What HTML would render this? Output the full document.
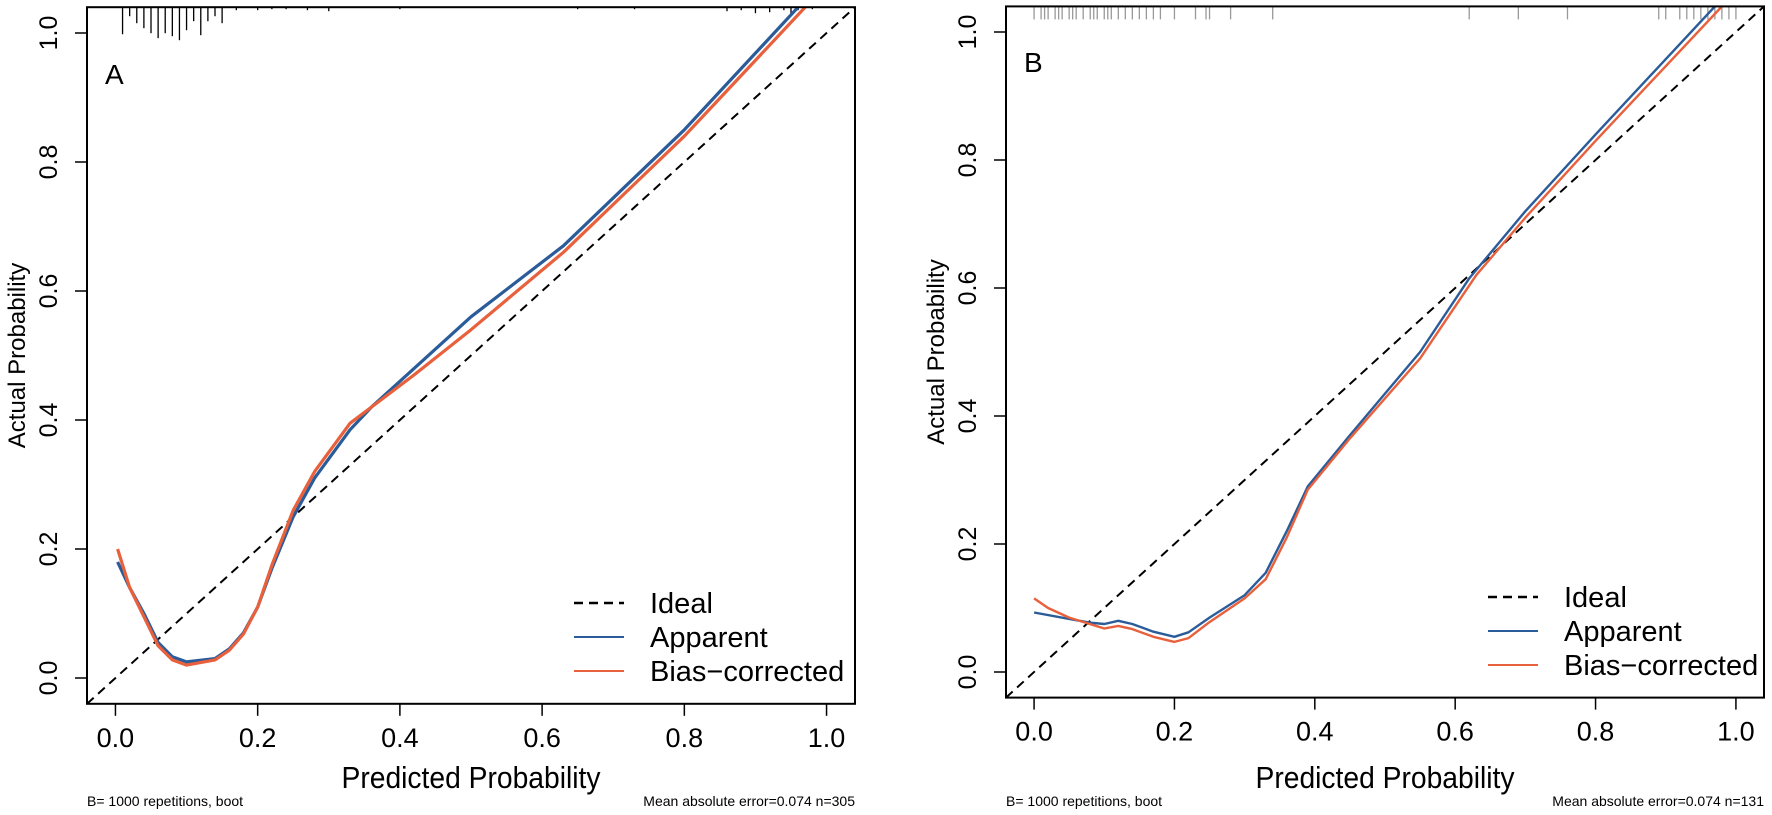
<!DOCTYPE html>
<html><head><meta charset="utf-8"><style>
html,body{margin:0;padding:0;background:#fff;}
svg{display:block;}
.n{font-family:"Liberation Sans Narrow","Liberation Sans",sans-serif;}
.r{font-family:"Liberation Sans",sans-serif;}
</style></head><body>
<svg id="c" width="1772" height="815" viewBox="0 0 1772 815" xmlns="http://www.w3.org/2000/svg"></svg>
<script>
const xTicks = [0, 0.2, 0.4, 0.6, 0.8, 1.0];
const yTicks = [0, 0.2, 0.4, 0.6, 0.8, 1.0];
const tickLabels = ["0.0","0.2","0.4","0.6","0.8","1.0"];
const legendLabels = ["Ideal","Apparent","Bias\u2212corrected"];

const aApparentX = [0.003,0.02,0.04,0.06,0.08,0.1,0.14,0.16,0.18,0.2,0.22,0.25,0.28,0.33,0.36,0.4,0.5,0.63,0.8,0.96];
const aApparentY = [0.18,0.14,0.1,0.055,0.033,0.025,0.03,0.045,0.07,0.11,0.17,0.25,0.31,0.385,0.42,0.46,0.56,0.67,0.85,1.04];
const aCorrectedX = [0.003,0.02,0.04,0.06,0.08,0.1,0.14,0.16,0.18,0.2,0.22,0.25,0.28,0.33,0.36,0.42,0.5,0.63,0.8,0.97];
const aCorrectedY = [0.2,0.14,0.095,0.05,0.028,0.02,0.028,0.043,0.068,0.11,0.175,0.26,0.32,0.395,0.42,0.47,0.54,0.66,0.84,1.04];

const bApparentX = [0,0.05,0.08,0.1,0.12,0.14,0.17,0.2,0.22,0.25,0.3,0.33,0.36,0.39,0.45,0.55,0.62,0.7,0.8,0.97];
const bApparentY = [0.093,0.083,0.077,0.075,0.08,0.075,0.063,0.055,0.062,0.085,0.12,0.155,0.22,0.29,0.37,0.5,0.615,0.72,0.84,1.04];
const bCorrectedX = [0,0.02,0.05,0.1,0.12,0.14,0.17,0.2,0.22,0.25,0.3,0.33,0.36,0.39,0.45,0.55,0.63,0.7,0.8,0.98];
const bCorrectedY = [0.115,0.1,0.085,0.068,0.072,0.067,0.055,0.047,0.053,0.078,0.115,0.145,0.21,0.285,0.365,0.49,0.62,0.71,0.83,1.04];

const aRugX = [0.01,0.02,0.03,0.04,0.05,0.06,0.07,0.08,0.09,0.1,0.11,0.12,0.13,0.14,0.15,0.17,0.2,0.22,0.24,0.27,0.3,0.4,0.65,0.73,0.86,0.88,0.9,0.92,0.94,0.95,0.96,0.98];
const aRugLen = [27,9,16,21,26,31,26,29,33,23,14,28,14,9,16,3,3,2,2,3,4,2,2,2,4,3,6,5,3,7,3,2];
const bRugX = [0.0,0.01,0.015,0.02,0.03,0.035,0.04,0.05,0.055,0.06,0.07,0.08,0.085,0.09,0.1,0.105,0.11,0.12,0.13,0.14,0.15,0.16,0.17,0.18,0.2,0.23,0.245,0.25,0.28,0.34,0.62,0.69,0.76,0.89,0.9,0.92,0.93,0.94,0.95,0.96,0.97,0.98,0.99,1.0];

const NS='http://www.w3.org/2000/svg';
const svg=document.getElementById('c');
function el(tag,attrs,parent){const e=document.createElementNS(NS,tag);for(const k in attrs)e.setAttribute(k,attrs[k]);(parent||svg).appendChild(e);return e;}

function panel(cfg){
  const g=el('g',{});
  
  
  const L=cfg.left,R=cfg.right,zy=cfg.zeroY,u=cfg.unitY;
  const xs=v=>L+(v+0.04)/1.08*(R-L);
  const ys=v=>zy-v*u;
  const T=ys(1.04),B=ys(-0.04);
  const clipId='clip-'+cfg.id;
  const cp=el('clipPath',{id:clipId},g);el('rect',{x:L,y:T,width:R-L,height:B-T},cp);
  // diagonal
  const d=el('line',{x1:xs(-0.04),y1:ys(-0.04),x2:xs(1.04),y2:ys(1.04),stroke:'#000','stroke-width':2,'stroke-dasharray':'9,6','clip-path':'url(#'+clipId+')'},g);
  
  
  // rug
  const rg=el('g',{},g);
  
  
  cfg.rugX.forEach((v,i)=>{
    const len=cfg.rugLen?cfg.rugLen[i]:13;
    const t=el('line',{x1:xs(v),x2:xs(v),y1:T,y2:T+len,stroke:cfg.rugColor,'stroke-width':1.3},rg);
    
    
  });
  // curves
  function curve(X,Y,color,name){
    const p=X.map((x,i)=>xs(x).toFixed(1)+','+ys(Y[i]).toFixed(1)).join(' ');
    const pl=el('polyline',{points:p,fill:'none',stroke:color,'stroke-width':cfg.lw,'stroke-linejoin':'round','clip-path':'url(#'+clipId+')'},g);
    
    
  }
  curve(cfg.appX,cfg.appY,'#2b5c9a',cfg.id+'-apparent-line');
  curve(cfg.corX,cfg.corY,'#e8603c',cfg.id+'-bias-corrected-line');
  // box
  const bx=el('rect',{x:L,y:T,width:R-L,height:B-T,fill:'none',stroke:'#000','stroke-width':2},g);
  
  
  // x ticks
  xTicks.forEach((v,i)=>{
    el('line',{x1:xs(v),x2:xs(v),y1:B,y2:B+12,stroke:'#000','stroke-width':1.5},g);
    const t=el('text',{x:xs(v),y:B+43,'text-anchor':'middle','font-size':27,class:'n'},g);
    t.textContent=tickLabels[i];
    
    
  });
  yTicks.forEach((v,i)=>{
    el('line',{x1:L,x2:L-12,y1:ys(v),y2:ys(v),stroke:'#000','stroke-width':1.5},g);
    const yy=ys(v);
    const t=el('text',{x:L-30,y:yy,'text-anchor':'middle','font-size':25,class:'r',transform:'rotate(-90 '+(L-30)+' '+yy+')'},g);
    t.textContent=tickLabels[i];
    
    
  });
  // titles
  const xt=el('text',{x:(L+R)/2,y:788,'text-anchor':'middle','font-size':31,class:'n',textLength:259,lengthAdjust:'spacingAndGlyphs'},g);
  xt.textContent='Predicted Probability';
  
  
  const yc=(T+B)/2, yx=L-62;
  const yt=el('text',{x:yx,y:yc,'text-anchor':'middle','font-size':24,class:'r',transform:'rotate(-90 '+yx+' '+yc+')'},g);
  yt.textContent='Actual Probability';
  
  
  // panel letter
  const pl=el('text',{x:L+18,y:cfg.letterY,'font-size':28,class:'n'},g);
  pl.textContent=cfg.letter;
  
  
  // legend
  const lg=el('g',{},g);
  
  
  const cols=['#000','#2b5c9a','#e8603c'];
  legendLabels.forEach((lab,i)=>{
    const y=cfg.legY+i*cfg.legDy;
    const ln=el('line',{x1:cfg.legX,x2:cfg.legX+50,y1:y,y2:y,stroke:cols[i],'stroke-width':i==0?2.5:2,'stroke-dasharray':i==0?'9,6':'none'},lg);
    
    
    const t=el('text',{x:cfg.legX+76,y:y+10,'font-size':29,class:'n'},lg);
    t.textContent=lab;
    
    
  });
  // footers
  const f1=el('text',{x:L,y:806,'font-size':14,class:'n'},g);
  f1.textContent='B= 1000 repetitions, boot';
  
  
  const f2=el('text',{x:R,y:806,'font-size':14,'text-anchor':'end',class:'n'},g);
  f2.textContent='Mean absolute error=0.074 n='+cfg.n;
  
  
}

panel({id:'a',letter:'A',left:87,right:855,zeroY:678,unitY:645,lw:3.2,rugColor:'#000',rugX:aRugX,rugLen:aRugLen,
  appX:aApparentX,appY:aApparentY,corX:aCorrectedX,corY:aCorrectedY,letterY:84,legX:574,legY:603,legDy:34,n:305});
panel({id:'b',letter:'B',left:1006,right:1764,zeroY:672,unitY:640,lw:2.4,rugColor:'#999',rugX:bRugX,rugLen:null,
  appX:bApparentX,appY:bApparentY,corX:bCorrectedX,corY:bCorrectedY,letterY:72,legX:1488,legY:597,legDy:34,n:131});
</script>
</body></html>
